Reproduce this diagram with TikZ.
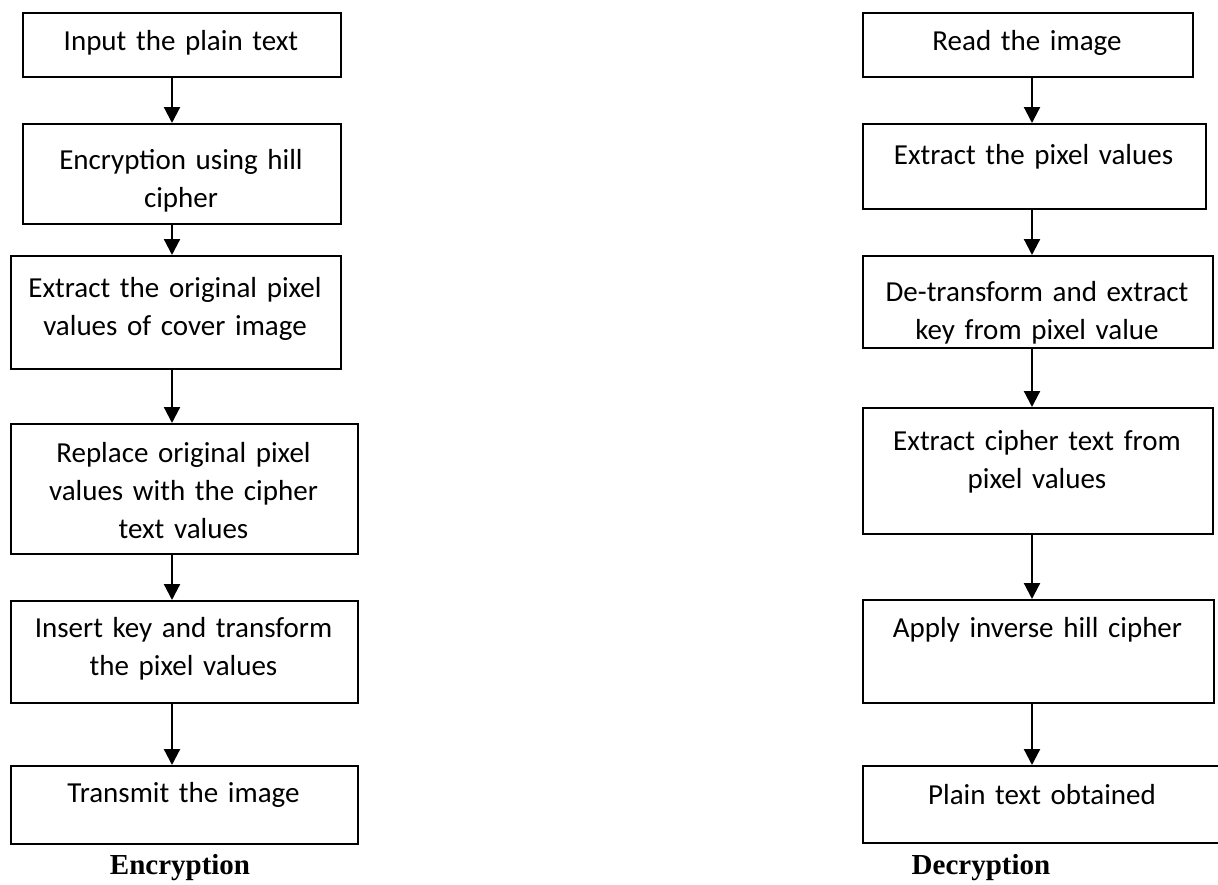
\documentclass[tikz,border=0pt]{standalone}
\usepackage{fontspec}
\setmainfont{Carlito}
\newfontfamily\capfont{Liberation Serif}
\usetikzlibrary{arrows.meta,calc}
\tikzset{
  stepbox/.style={draw=black, line width=2pt, inner sep=0pt, anchor=north west},
  steptext/.style={anchor=base, inner sep=0pt, align=center, font=\fontsize{29}{38}\selectfont},
  flow/.style={draw=black, line width=2.2pt, -{Triangle[length=16pt,width=16pt]}},
  caption/.style={inner sep=0pt, font=\capfont\bfseries\fontsize{29}{34}\selectfont}
}
% #1 name, #2 left, #3 top, #4 right, #5 bottom, #6 first baseline, #7 text
\newcommand{\flowstep}[7]{%
  \pgfmathsetlengthmacro\bw{(#4-#2)*1pt}%
  \pgfmathsetlengthmacro\bh{(#5-#3)*1pt}%
  \node[stepbox, minimum width=\bw, minimum height=\bh] (#1) at (#2,#3) {};
  \node[steptext, text width=\bw] (#1t) at ({(#2+#4)/2},#6) {#7};
}
\begin{document}
\begin{tikzpicture}[x=1pt,y=-1pt]
\fill[white] (0,0) rectangle (1218,884);
\useasboundingbox (0,0) rectangle (1218,884);

% Encryption column
\flowstep{L1}{22}{12}{340}{76}{50}{Input the plain text}
\flowstep{L2}{22}{123}{340}{223}{169}{Encryption using hill\\cipher}
\flowstep{L3}{10}{255}{340}{368}{297}{Extract the original pixel\\values of cover image}
\flowstep{L4}{10}{423}{357}{553}{462}{Replace original pixel\\values with the cipher\\text values}
\flowstep{L5}{10}{600}{357}{702}{637}{Insert key and transform\\the pixel values}
\flowstep{L6}{10}{765}{357}{843}{802}{Transmit the image}
\node[caption] (enc) at (180,868) {Encryption};

% Decryption column
\flowstep{R1}{862}{12}{1192}{76}{50}{Read the image}
\flowstep{R2}{862}{123}{1205}{208}{164}{Extract the pixel values}
\flowstep{R3}{862}{255}{1212}{347}{301}{De-transform and extract\\key from pixel value}
\flowstep{R4}{862}{407}{1212}{533}{450}{Extract cipher text from\\pixel values}
\flowstep{R5}{862}{599}{1213}{702}{637}{Apply inverse hill cipher}
\flowstep{R6}{862}{765}{1222}{842}{804}{Plain text obtained}
\node[caption] (dec) at (981,868) {Decryption};

% arrow axes
\coordinate (lx) at (172,0);
\coordinate (rx) at (1032,0);

\draw[flow] (L1.south -| lx) -- (L2.north -| lx);
\draw[flow] (L2.south -| lx) -- (L3.north -| lx);
\draw[flow] (L3.south -| lx) -- (L4.north -| lx);
\draw[flow] (L4.south -| lx) -- (L5.north -| lx);
\draw[flow] (L5.south -| lx) -- (L6.north -| lx);

\draw[flow] (R1.south -| rx) -- (R2.north -| rx);
\draw[flow] (R2.south -| rx) -- (R3.north -| rx);
\draw[flow] (R3.south -| rx) -- (R4.north -| rx);
\draw[flow] (R4.south -| rx) -- (R5.north -| rx);
\draw[flow] (R5.south -| rx) -- (R6.north -| rx);
\end{tikzpicture}
\end{document}
